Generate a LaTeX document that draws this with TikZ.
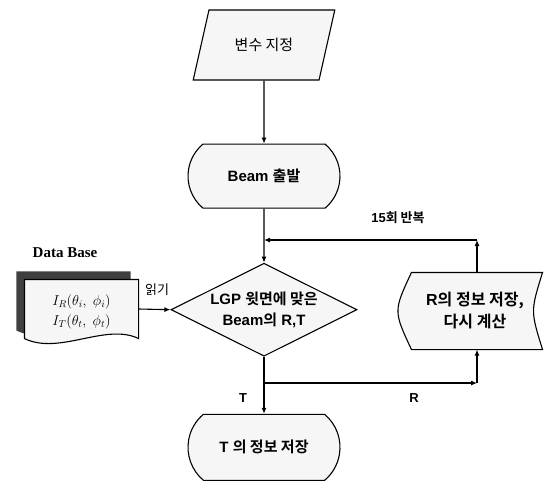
\documentclass[tikz,border=0pt]{standalone}
\usepackage{fontspec}
\setmainfont{Liberation Sans}
\newfontfamily\kr{Noto Sans CJK KR}[BoldFont={Noto Sans CJK KR Bold}]
\newfontfamily\dbserif{Liberation Serif}
\usetikzlibrary{shapes.geometric,shapes.misc,arrows.meta,positioning}

\begin{document}
\begin{tikzpicture}[x=1pt,y=-1pt,
    line width=1.1pt,
    arr/.style={-{Latex[length=6pt,width=5pt]}},
    boxline/.style={draw, fill=gray!7},
    txt/.style={font=\fontsize{13}{19}\selectfont, align=center, inner sep=1pt},
    bigtxt/.style={font=\fontsize{15}{21}\selectfont, align=center, inner sep=1pt},
    inputbox/.style={boxline, trapezium, trapezium stretches=true,
      trapezium left angle=63, trapezium right angle=117,
      minimum width=142pt, minimum height=70pt, inner sep=2pt,
      font=\fontsize{15}{21}\selectfont},
    termbox/.style={boxline, rounded rectangle, rounded rectangle arc length=100,
      minimum width=156pt, minimum height=64pt, inner sep=2pt,
      font=\fontsize{15}{21}\selectfont},
    decbox/.style={boxline, diamond, aspect=2, minimum width=186pt,
      minimum height=93pt, inner sep=1pt},
    hidebox/.style={draw=none, inner sep=0pt}]

  \useasboundingbox (0,0) rectangle (544,491);

  % Define nodes
  \node[inputbox] (start) at (264,45) {\kr 변수 지정};
  \node[termbox, below=63pt of start] (beam) {\textbf{Beam} {\kr\bfseries 출발}};
  \node[decbox, below=54pt of beam] (check) {};
  \node[bigtxt] at (check) {\textbf{LGP} {\kr\bfseries 윗면에 맞은}\\
    \textbf{Beam}{\kr\bfseries 의} \textbf{R,T}};
  \node[termbox, below=57pt of check, minimum height=66pt] (saveT)
    {\textbf{T} {\kr\bfseries 의 정보 저장}};

  % stored data box on the right
  \node[hidebox, minimum width=130pt, minimum height=76pt] (saveR) at (477,311) {};
  \draw[boxline] (saveR.north west) -- (saveR.north east)
    .. controls ([xshift=-12pt]saveR.east) .. (saveR.south east)
    -- (saveR.south west)
    .. controls ([xshift=-18pt]saveR.west) .. (saveR.north west) -- cycle;
  \node[bigtxt, font=\fontsize{16}{22}\selectfont, xshift=-2pt] at (saveR)
    {\textbf{R}{\kr\bfseries 의 정보 저장,}\\{\kr\bfseries 다시 계산}};

  % data base document with shadow
  \node[hidebox, minimum width=113pt, minimum height=58pt] (db) at (81.5,309) {};
  \fill[black!75] ([shift={(-8,-8)}]db.south west) -- ([shift={(-8,-8)}]db.north west)
    -- ([shift={(-8,-8)}]db.north east) -- ([shift={(-8,-8)}]db.south east)
    .. controls ([shift={(-41,-24)}]db.south east) and ([shift={(27,9)}]db.south west)
    .. ([shift={(-8,-8)}]db.south west) -- cycle;
  \draw[boxline] (db.south west) -- (db.north west) -- (db.north east) -- (db.south east)
    .. controls ([shift={(-33,-16)}]db.south east) and ([shift={(35,17)}]db.south west)
    .. (db.south west) -- cycle;
  \node[txt, font=\fontsize{14}{20}\selectfont, yshift=-3pt] at (db)
    {$I_R(\theta_i,\ \phi_i)$\\$I_T(\theta_t,\ \phi_t)$};
  \node[font=\dbserif\bfseries\fontsize{15}{17}\selectfont] (dblabel) at (65,253) {Data Base};

  % Connect the nodes
  \coordinate (loopc) at (saveR.north |- 0,240);
  \coordinate (loopj) at (beam.south |- loopc);
  \coordinate (brj) at (check.south |- 0,383);
  \coordinate (brc) at (saveR.south |- brj);
  \draw[arr] (start) -- (beam);
  \draw[arr] (beam) -- (check);
  \draw[arr] (saveR.north) -- (loopc);
  \draw[arr] (loopc) -- (loopj);
  \draw[arr] (check.south) -- (saveT.north);
  \draw[arr] (brj) -- (brc);
  \draw[arr] (brc) -- (saveR.south);
  \draw[arr] (db.east) -- (check.west);

  % Labels
  \node[txt] (rep) at (398,218) {\textbf{15}{\kr\bfseries 회 반복}};
  \node[txt] (read) at (157,290) {\kr 읽기};
  \node[txt] (lblT) at (243,398) {\textbf{T}};
  \node[txt] (lblR) at (414,398) {\textbf{R}};

\end{tikzpicture}
\end{document}
